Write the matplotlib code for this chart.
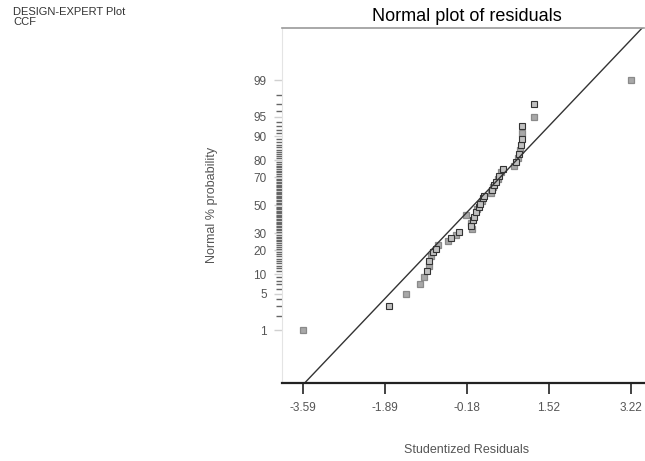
import numpy as np
import matplotlib.pyplot as plt
from statistics import NormalDist

plt.rcParams['font.family'] = ['Liberation Sans', 'DejaVu Sans']

# studentized residuals and their normal % probability
residuals = [-3.59, -1.79, -1.44, -1.15, -1.07, -1.01, -0.98, -0.96, -0.92, -0.88,
             -0.82, -0.78, -0.57, -0.51, -0.42, -0.34, -0.07, -0.09, -0.09, -0.05,
             -0.03, -0.20, 0.01, 0.03, 0.07, 0.09, 0.12, 0.14, 0.18, 0.32,
             0.34, 0.36, 0.38, 0.43, 0.47, 0.49, 0.53, 0.57, 0.80, 0.84,
             0.88, 0.90, 0.92, 0.94, 0.96, 0.96, 0.96, 1.21, 1.21, 3.22]
probability = [1, 3, 5, 7, 9, 11, 13, 15, 17, 19,
               21, 23, 25, 27, 29, 31, 33, 35, 37, 39,
               41, 43, 45, 47, 49, 51, 53, 55, 57, 59,
               61, 63, 65, 67, 69, 71, 73, 75, 77, 79,
               81, 83, 85, 87, 89, 91, 93, 95, 97, 99]
# 1 = grey filled square, 0 = dark outlined square
grey = [1, 0, 1, 1, 1, 0, 1, 0, 1, 0,
        0, 1, 1, 0, 1, 0, 1, 0, 1, 0,
        0, 1, 0, 1, 0, 0, 1, 0, 0, 1,
        0, 1, 0, 0, 1, 0, 1, 0, 1, 0,
        1, 0, 1, 0, 0, 1, 0, 1, 0, 1]

fit_slope = 0.944
fit_intercept = 0.041

xtick_vals = [-3.59, -1.89, -0.18, 1.52, 3.22]
ytick_pct = [1, 5, 10, 20, 30, 50, 70, 80, 90, 95, 99]
yminor_pct = [p for p in range(2, 99) if p not in ytick_pct]

nd = NormalDist()
def z(p):
    return nd.inv_cdf(p / 100.0)

fig = plt.figure(figsize=(6.45, 4.61), dpi=100)
ax = fig.add_axes([0.4372, 0.1692, 0.5612, 0.7701])

res = np.array(residuals)
zz = np.array([z(p) for p in probability])
g = np.array(grey) == 1

ax.plot(res[g], zz[g], 's', ms=5, mfc='#a8a8a8', mec='#8a8a8a', mew=0.9)
ax.plot(res[~g], zz[~g], 's', ms=5, mfc='#c0c0c0', mec='#333333', mew=0.8)

xl = np.array([-4.1, 3.6])
ax.plot(xl, fit_intercept + fit_slope * xl, color='#333333', lw=1.0)

ax.set_xlim(-4.02, 3.49)
ax.set_ylim(-3.31, 3.30)

ax.set_xticks(xtick_vals)
ax.set_xticklabels(['%.2f' % v for v in xtick_vals])
ax.set_yticks([z(p) for p in ytick_pct])
ax.set_yticklabels([str(p) for p in ytick_pct])
ax.set_yticks([z(p) for p in yminor_pct], minor=True)

ax.tick_params(axis='x', direction='out', length=8, width=1.2, color='#222222',
               labelsize=8.5, labelcolor='#555555', pad=6)
ax.tick_params(axis='y', which='major', direction='out', length=6, width=1,
               color='#d0d0d0', labelsize=8.5, labelcolor='#555555', pad=5)
ax.tick_params(axis='y', which='minor', direction='out', length=4, width=1,
               color='#666666')

ax.spines['right'].set_visible(False)
ax.spines['top'].set_color('#999999')
ax.spines['top'].set_linewidth(1.2)
ax.spines['left'].set_color('#e4e4e4')
ax.spines['bottom'].set_color('#222222')
ax.spines['bottom'].set_linewidth(1.6)

fig.text(0.724, 0.965, 'Normal plot of residuals', ha='center', va='center',
         fontsize=13)
fig.text(0.02, 0.985, 'DESIGN-EXPERT Plot\nCCF', ha='left', va='top',
         fontsize=8, color='#333333', linespacing=1.0)
fig.text(0.329, 0.555, 'Normal % probability', rotation=90, ha='center',
         va='center', fontsize=9, color='#555555')
fig.text(0.724, 0.024, 'Studentized Residuals', ha='center', va='center',
         fontsize=9, color='#555555')

plt.savefig('out.png', dpi=100)
